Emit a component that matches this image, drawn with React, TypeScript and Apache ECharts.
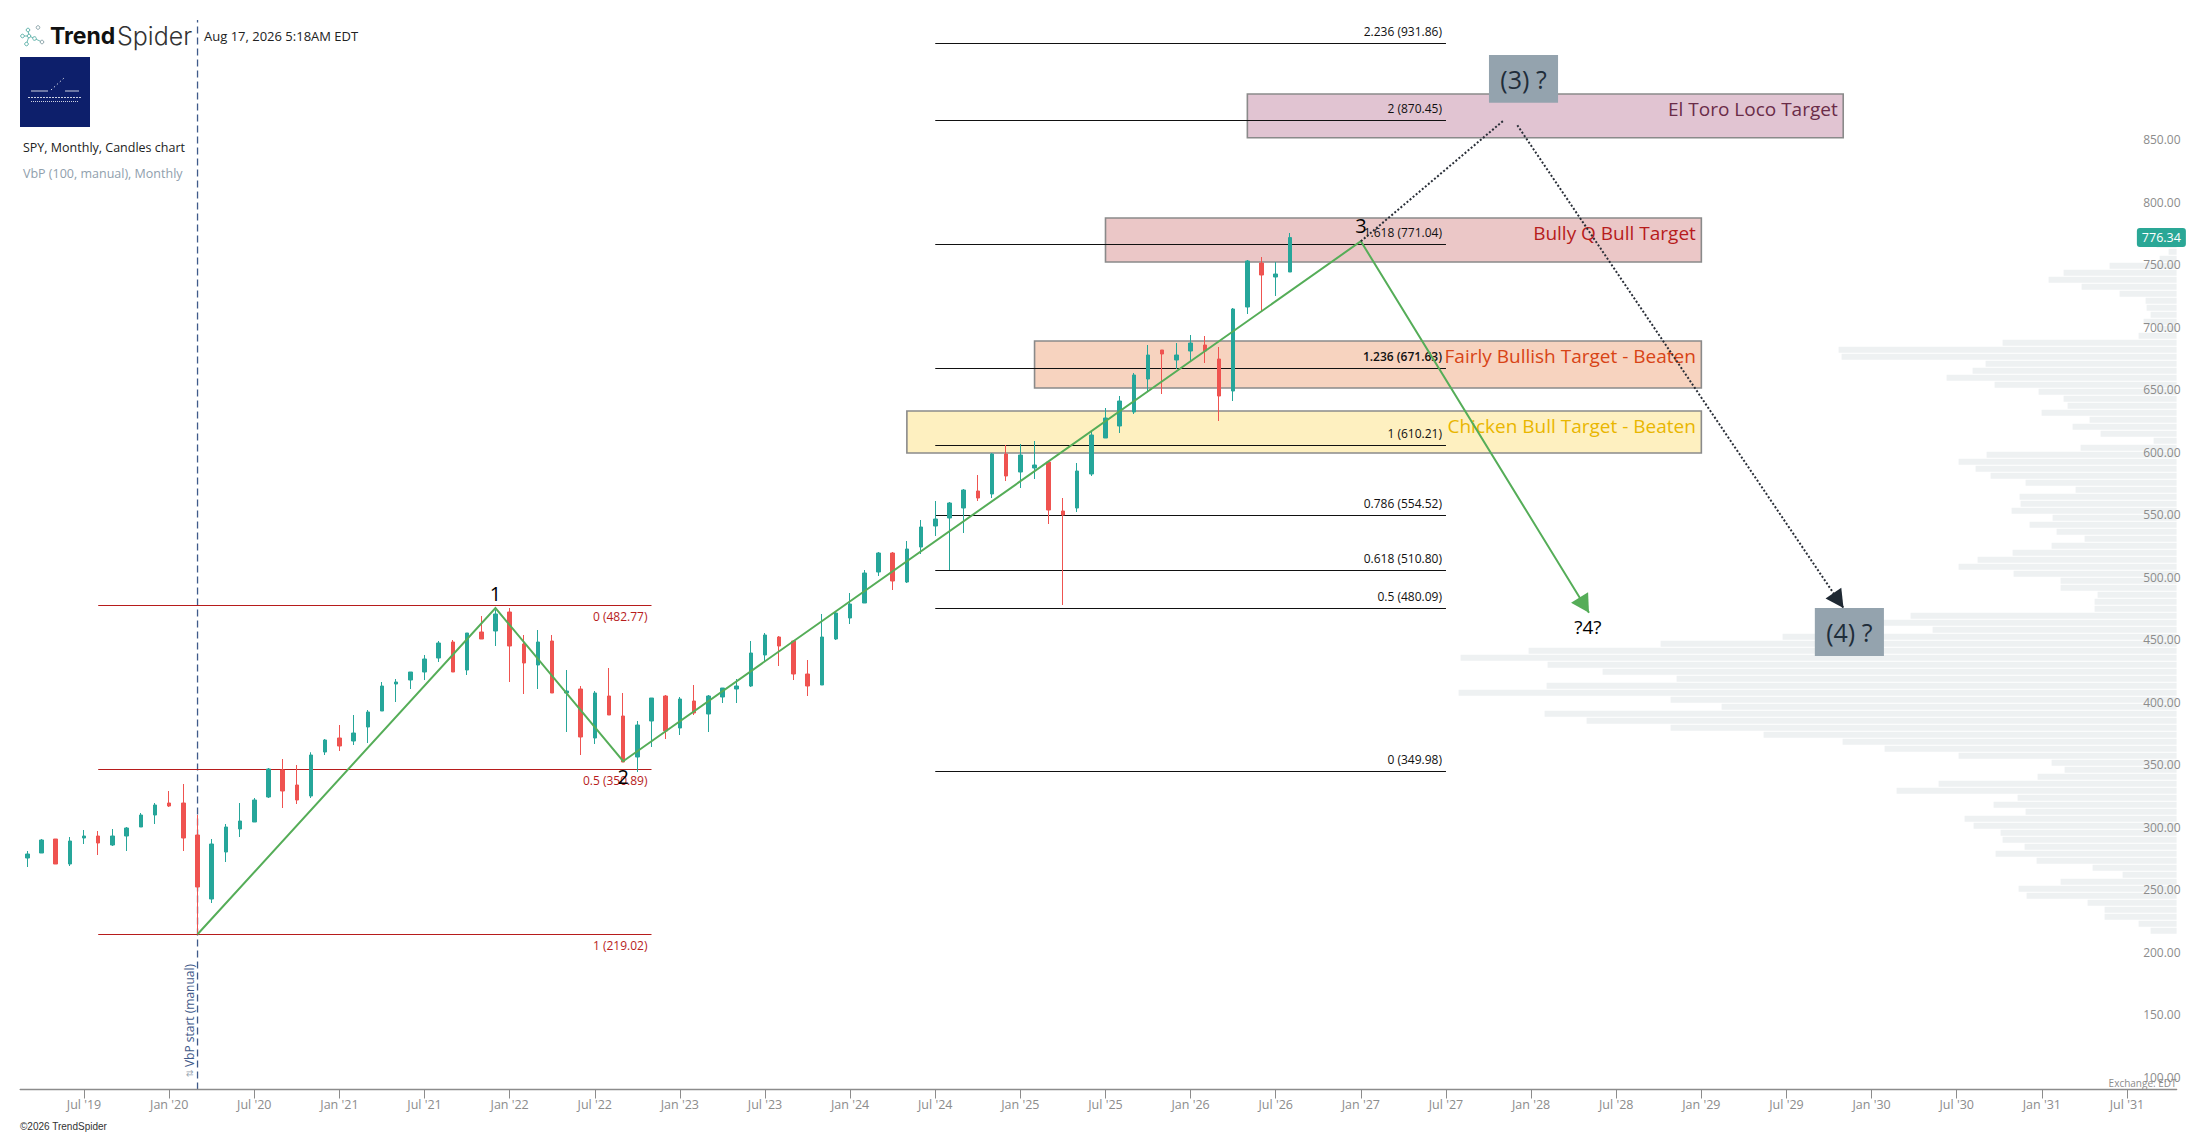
import React, { useEffect, useRef } from "react";
import * as echarts from "echarts";

const FONT = "'Open Sans', sans-serif";
const TEAL = "#26a69a";
const RED = "#ef5350";

const monthNames = ["Jan", "Feb", "Mar", "Apr", "May", "Jun", "Jul", "Aug", "Sep", "Oct", "Nov", "Dec"];
const firstYear = 2019;
const firstMonth = 2;
const monthCount = 152;
const categories: string[] = Array.from({ length: monthCount }, (_, i) => {
  const m = firstMonth + i;
  return `${monthNames[m % 12]} '${String(firstYear + Math.floor(m / 12)).slice(2)}`;
});
const isTickMonth = (i: number) => (firstMonth + i) % 6 === 0;

const yTicks = [100, 150, 200, 250, 300, 350, 400, 450, 500, 550, 600, 650, 700, 750, 800, 850];

const opens = [280,284,295.2,275.2,296,297.6,290.4,297.6,304.8,314.4,324,324,298.4,247.2,284.8,303.2,308.8,328.8,350.4,338.4,329.6,364.8,376,373.6,384.8,397.6,419.2,422.4,428.8,440,452.8,430.4,460.8,461.6,476.8,451.2,434.4,453.6,412,415.2,376,409.6,393.6,360.8,389.6,409.6,384,405.6,395.2,408.8,415.2,417.6,442.4,456.8,453.6,427.2,418.4,455.2,472,484,508.8,524,500.8,528.8,545.6,552,560,573.6,571.2,603.2,588.8,592,596.8,557.6,560,587.2,616,625.6,636.8,663.2,686.4,678.4,685.6,690.4,679.2,653.6,720.8,756,744.8,748.8];
const closes = [283.2,294.4,275.2,293.6,297.6,292,297.6,304,314.4,322.4,321.6,296,256.8,291.2,304.8,309.6,326.4,351.2,333.6,326.4,362.4,374.4,369.6,380,396.8,417.6,420.8,428.8,439.2,452,428.8,460,455.2,475.2,449.6,436,452.8,412,413.6,376.8,412,394.4,356.8,386.4,408,381.6,407.2,396,409.6,416,417.6,444,458.4,449.6,427.2,417.6,456.8,476,483.2,508,524,501.6,527.2,544.8,551.2,564,574.4,568,603.2,585.6,602.4,594.4,558.4,554.4,589.6,618.4,632,645.6,666.4,682.4,683.2,682.4,692,685.6,649.6,719.2,757.6,746.4,747.2,776.34];
const lows = [272.8,284,275.2,273.6,291.2,282.4,289.6,285.6,304.8,307.2,320.8,285.6,219,244,276.8,296.8,308.8,328,320,323.2,328,362.4,365.6,370.4,372,397.6,404.8,415.2,422.4,436.8,428.8,426.4,455.2,449.6,420.8,411.2,415.2,412,380.8,362.4,371.2,394.4,356.8,348.8,368.8,375.2,378.4,394.4,380.8,404,404,416.8,437.6,433.6,422.4,409.6,418.4,454.4,467.2,484,505.6,494.4,500,523.2,537.6,510.4,540,565.6,568,581.6,576,583.2,547.2,482.4,556.8,585.6,616,620,635.2,653.6,651.2,671.2,677.6,676,629.6,645.6,715.2,717.6,729.6,748.8];
const highs = [285.6,295.2,295.2,296.8,302.4,301.6,303.2,304.8,316,324,333.6,339.2,314.4,295.2,307.2,324,328,352,359.2,354.4,364.6,375.2,386.4,394.4,398.4,420.8,423.2,428.8,442.4,453.6,454.4,460,473.6,478.4,480,458.4,462.4,458.4,430.4,417.6,413.6,432,412,389.6,408,410.4,408.8,418.4,410.4,416,423.2,453.6,460,457.6,454.4,438.4,475.2,476.8,492,510.4,524.8,524.8,533.6,550.4,565.6,564.8,575.2,586.4,604,610.4,611.2,613.6,596.8,568,596,620.8,640,649.6,668,690.4,686.4,692,698.4,697.6,688.8,720,758.4,760.8,756.8,780];

// Volume by price, lowest bin first
const vbpLow = 218.6;
const vbpStep = 5.6;
const vbpVolumes = [26,38,72,72,89,150,158,116,54,84,140,181,152,174,176,203,212,151,183,159,280,238,139,112,125,218,292,334,413,506,590,632,455,506,718,630,500,574,629,716,648,516,394,244,302,266,82,82,79,116,116,163,218,199,164,125,92,120,147,124,165,156,157,101,151,186,201,218,190,96,23,76,104,87,135,109,113,138,182,230,204,191,335,338,174,38,20,33,26,30,31,57,95,128,113,67,17,8,20,10];

const redFibLabels = ["0 (482.77)", "0.5 (350.89)", "1 (219.02)"];
const redFibPrices = [482.77, 350.89, 219.02];
const redFibRange = [5, 44];

const blackFibLabels = ["2.236 (931.86)", "2 (870.45)", "1.618 (771.04)", "1.236 (671.63)", "1 (610.21)", "0.786 (554.52)", "0.618 (510.80)", "0.5 (480.09)", "0 (349.98)"];
const blackFibPrices = [931.86, 870.45, 771.04, 671.63, 610.21, 554.52, 510.8, 480.09, 349.98];
const blackFibRange = [64, 100];

const zoneNames = ["El Toro Loco Target", "Bully Q Bull Target", "Fairly Bullish Target - Beaten", "Chicken Bull Target - Beaten"];
const zoneFrom = [86, 76, 71, 62];
const zoneTo = [128, 118, 118, 118];
const zoneTop = [891.2, 792, 693.6, 637.6];
const zoneBottom = [856.2, 756.8, 656, 604];
const zoneFills = ["#e1c4d2", "#ebc7c7", "#f7d3bf", "#fef0c0"];
const zoneTextColors = ["#6a2c48", "#b71c1c", "#d84315", "#e9b600"];

const waveX = [12, 33, 42, 94, 110.08];
const waveY = [219.02, 480, 357.4, 773.4, 476.2];
const dottedUpX = [94, 104.04];
const dottedUpY = [773.4, 869.8];
const dottedDownX = [105.03, 128.02];
const dottedDownY = [866.2, 480];

const waveLabels = ["1", "2", "3", "?4?"];
const waveLabelX = [33, 42, 94, 110];
const waveLabelY = [492, 344.9, 785.8, 464.9];
const waveLabelSize = [20, 20, 20, 19];

const boxLabels = ["(3) ?", "(4) ?"];
const boxFrom = [103.03, 126];
const boxTo = [107.9, 130.87];
const boxTop = [922.4, 480];
const boxBottom = [884.2, 441.6];

const lastPrice = 776.34;
const vbpStartIndex = 12;

const crisp = (v: number) => Math.round(v) + 0.5;

function custom(name: string, xAxisIndex: number, z: number, data: number[][], encode: any, renderItem: any) {
  return { type: "custom", name, xAxisIndex, yAxisIndex: 0, z, data, encode, renderItem, silent: true, clip: false };
}

function arrow(tip: number[], from: number[], len: number, half: number) {
  const dx = tip[0] - from[0];
  const dy = tip[1] - from[1];
  const d = Math.hypot(dx, dy);
  const ux = dx / d;
  const uy = dy / d;
  const bx = tip[0] - ux * len;
  const by = tip[1] - uy * len;
  return [tip, [bx - uy * half, by + ux * half], [bx + uy * half, by - ux * half]];
}

function buildOption(): any {
  const fibSeries = (name: string, labels: string[], prices: number[], range: number[], color: string, above: boolean) =>
    custom(name, 1, 4, prices.map((p) => [range[0], range[1], p]), { x: [0, 1], y: 2 }, (params: any, api: any) => {
      const a = api.coord([api.value(0), api.value(2)]);
      const b = api.coord([api.value(1), api.value(2)]);
      const y = crisp(a[1]);
      const text = labels[params.dataIndex];
      return {
        type: "group",
        children: [
          { type: "line", shape: { x1: a[0], y1: y, x2: b[0], y2: y }, style: { stroke: color, lineWidth: 1 } },
          {
            type: "text",
            style: {
              text,
              x: b[0] - 4,
              y: a[1] + (above ? -11.5 : 11.5),
              fill: color,
              fontSize: 12,
              fontFamily: FONT,
              fontWeight: text.startsWith("1.236") ? 600 : 400,
              align: "right",
              verticalAlign: "middle",
            },
          },
        ],
      };
    });

  const polySeries = (name: string, xs: number[], ys: number[], color: string, width: number, dash: number[] | null, head: number[] | null) =>
    custom(name, 1, 7, xs.map((x, i) => [x, ys[i]]), { x: 0, y: 1 }, (params: any, api: any) => {
      if (params.dataIndex !== 0) return null;
      const pts = xs.map((x, i) => api.coord([x, ys[i]]));
      const children: any[] = [
        {
          type: "polyline",
          shape: { points: pts },
          style: { stroke: color, fill: "none", lineWidth: width, lineDash: dash || undefined, lineJoin: "miter" },
        },
      ];
      if (head) {
        const n = pts.length;
        children.push({
          type: "polygon",
          shape: { points: arrow(pts[n - 1], pts[n - 2], head[0], head[1]) },
          style: { fill: color === "#2a2f38" ? "#1f2933" : color },
        });
      }
      return { type: "group", children };
    });

  const series: any[] = [
    custom("VbP", 2, 1, vbpVolumes.map((v, i) => [v, vbpLow + i * vbpStep, vbpLow + (i + 1) * vbpStep]), { x: 0, y: [1, 2] }, (_: any, api: any) => {
      const a = api.coord([api.value(0), api.value(2)]);
      const b = api.coord([0, api.value(1)]);
      return {
        type: "rect",
        shape: { x: a[0], y: a[1], width: b[0] - a[0], height: b[1] - a[1] - 1 },
        style: { fill: "#eef1f2" },
      };
    }),
    custom("Zones", 1, 2, zoneNames.map((_, i) => [zoneFrom[i], zoneTo[i], zoneTop[i], zoneBottom[i]]), { x: [0, 1], y: [2, 3] }, (params: any, api: any) => {
      const i = params.dataIndex;
      const a = api.coord([api.value(0), api.value(2)]);
      const b = api.coord([api.value(1), api.value(3)]);
      return {
        type: "group",
        children: [
          {
            type: "rect",
            shape: { x: a[0], y: a[1], width: b[0] - a[0], height: b[1] - a[1] },
            style: { fill: zoneFills[i], stroke: "#8a8a8a", lineWidth: 1.6 },
          },
          {
            type: "text",
            style: {
              text: zoneNames[i],
              x: b[0] - 5.5,
              y: a[1] + 15,
              fill: zoneTextColors[i],
              fontSize: 19,
              fontFamily: FONT,
              align: "right",
              verticalAlign: "middle",
            },
          },
        ],
      };
    }),
    fibSeries("Fib red", redFibLabels, redFibPrices, redFibRange, "#b71c1c", false),
    fibSeries("Fib black", blackFibLabels, blackFibPrices, blackFibRange, "#111111", true),
    custom("VbP start", 1, 3, [[vbpStartIndex, 94.8], [vbpStartIndex, 950.4]], { x: 0, y: 1 }, (params: any, api: any) => {
      if (params.dataIndex !== 0) return null;
      const a = api.coord([vbpStartIndex, 94.8]);
      const b = api.coord([vbpStartIndex, 950.4]);
      return {
        type: "group",
        children: [
          { type: "line", shape: { x1: a[0], y1: a[1], x2: b[0], y2: b[1] }, style: { stroke: "#3f5a8a", lineWidth: 1.3, lineDash: [7, 4] } },
          {
            type: "text",
            x: a[0] - 8,
            y: a[1] - 74,
            rotation: Math.PI / 2,
            style: { text: "VbP start (manual)", fill: "#3f5a8a", fontSize: 12, fontFamily: FONT, align: "center", verticalAlign: "middle" },
          },
          {
            type: "text",
            x: a[0] - 8,
            y: a[1] - 16,
            rotation: Math.PI / 2,
            style: { text: "\u21c5", fill: "#9aa7b2", fontSize: 9, fontFamily: "DejaVu Sans", align: "center", verticalAlign: "middle" },
          },
        ],
      };
    }),
    {
      type: "candlestick",
      name: "SPY",
      xAxisIndex: 0,
      yAxisIndex: 0,
      z: 5,
      barWidth: 4,
      silent: true,
      data: opens.map((o, i) => [o, closes[i], lows[i], highs[i]]),
      itemStyle: { color: TEAL, color0: RED, borderColor: TEAL, borderColor0: RED, borderWidth: 1 },
    },
    polySeries("Wave", waveX, waveY, "#55ad58", 2, null, [18, 10]),
    polySeries("Dotted up", dottedUpX, dottedUpY, "#2a2f38", 2, [2, 2], null),
    polySeries("Dotted down", dottedDownX, dottedDownY, "#2a2f38", 2, [2, 2], [18, 9.5]),
    custom("Wave labels", 1, 8, waveLabels.map((_, i) => [waveLabelX[i], waveLabelY[i]]), { x: 0, y: 1 }, (params: any, api: any) => {
      const p = api.coord([api.value(0), api.value(1)]);
      const i = params.dataIndex;
      return {
        type: "text",
        style: { text: waveLabels[i], x: p[0], y: p[1], fill: "#000", fontSize: waveLabelSize[i], fontFamily: FONT, align: "center", verticalAlign: "middle" },
      };
    }),
    custom("Boxes", 1, 9, boxLabels.map((_, i) => [boxFrom[i], boxTo[i], boxTop[i], boxBottom[i]]), { x: [0, 1], y: [2, 3] }, (params: any, api: any) => {
      const a = api.coord([api.value(0), api.value(2)]);
      const b = api.coord([api.value(1), api.value(3)]);
      return {
        type: "group",
        children: [
          { type: "rect", shape: { x: a[0], y: a[1], width: b[0] - a[0], height: b[1] - a[1] }, style: { fill: "#94a3ae" } },
          {
            type: "text",
            style: { text: boxLabels[params.dataIndex], x: (a[0] + b[0]) / 2, y: (a[1] + b[1]) / 2, fill: "#1f2d3a", fontSize: 25, fontFamily: FONT, align: "center", verticalAlign: "middle" },
          },
        ],
      };
    }),
    custom("Last price", 1, 10, [[148.7, lastPrice]], { x: 0, y: 1 }, (_: any, api: any) => {
      const p = api.coord([api.value(0), api.value(1)]);
      return {
        type: "group",
        children: [
          { type: "rect", shape: { x: p[0], y: p[1] - 9.5, width: 49, height: 19, r: 3 }, style: { fill: "#2aa796" } },
          { type: "text", style: { text: lastPrice.toFixed(2), x: p[0] + 24.5, y: p[1], fill: "#fff", fontSize: 12.5, fontFamily: FONT, align: "center", verticalAlign: "middle" } },
        ],
      };
    }),
  ];

  const txt = (text: string, x: number, y: number, fill: string, fontSize: number, font = FONT, extra: any = {}) => ({
    type: "text",
    x,
    y,
    z: 20,
    silent: true,
    style: { text, fill, fontSize, fontFamily: font, align: "left", verticalAlign: "middle", ...extra },
  });

  const node = (cx: number, cy: number, stroke: string) => ({
    type: "circle",
    z: 20,
    silent: true,
    shape: { cx, cy, r: 1.8 },
    style: { fill: "#fff", stroke, lineWidth: 0.9 },
  });
  const link = (x1: number, y1: number, x2: number, y2: number) => ({
    type: "line",
    z: 19,
    silent: true,
    shape: { x1, y1, x2, y2 },
    style: { stroke: "#4ea9a0", lineWidth: 0.8 },
  });
  const whiteLine = (x1: number, y1: number, x2: number, y2: number, dash?: number[]) => ({
    type: "line",
    z: 21,
    silent: true,
    shape: { x1, y1, x2, y2 },
    style: { stroke: "#ffffff", lineWidth: 0.8, lineDash: dash },
  });

  return {
    animation: false,
    backgroundColor: "#ffffff",
    grid: { left: 20.2, top: 0, width: 2156.4, height: 1089.5, containLabel: false },
    xAxis: [
      {
        type: "category",
        data: categories,
        boundaryGap: true,
        z: 10,
        axisLine: { lineStyle: { color: "#8c8c8c", width: 1.4 } },
        axisTick: { show: true, alignWithLabel: true, length: 9, interval: (i: number) => isTickMonth(i), lineStyle: { color: "#8c8c8c" } },
        axisLabel: { interval: (i: number) => isTickMonth(i), margin: 8, color: "#8c8c8c", fontSize: 12.5, fontFamily: FONT },
        splitLine: { show: false },
      },
      { type: "value", show: false, min: -0.5, max: monthCount - 0.5, splitLine: { show: false } },
      { type: "value", show: false, inverse: true, min: 0, max: 2156.4, splitLine: { show: false } },
    ],
    yAxis: [
      {
        type: "value",
        position: "right",
        min: 94.8,
        max: 966.4,
        z: 10,
        axisLine: { show: false },
        axisTick: { show: false },
        splitLine: { show: false },
        axisLabel: {
          customValues: yTicks,
          formatter: (v: number) => v.toFixed(2),
          color: "#8c8c8c",
          fontSize: 12,
          fontFamily: FONT,
          align: "right",
          verticalAlign: "bottom",
          lineHeight: 12,
          margin: 4,
        },
      },
    ],
    series,
    graphic: [
      node(22.5, 36, "#4ea9a0"), node(28, 30, "#4ea9a0"), node(38, 27.5, "#7f9aa0"), node(26.5, 44, "#4ea9a0"),
      node(34.5, 38.5, "#4ea9a0"), node(42, 42, "#7f9aa0"), node(29, 36, "#4ea9a0"),
      link(22.5, 36, 29, 36), link(28, 30, 29, 36), link(29, 36, 26.5, 44), link(29, 36, 34.5, 38.5), link(34.5, 38.5, 42, 42),
      txt("Trend", 50, 35.5, "#111", 23, "Inter", { fontWeight: 700 }),
      txt("Spider", 117, 35.5, "#333", 25, "Inter", { fontWeight: 300 }),
      txt("Aug 17, 2026 5:18AM EDT", 204, 36, "#222", 13),
      { type: "rect", z: 20, silent: true, shape: { x: 20, y: 57, width: 70, height: 70 }, style: { fill: "#0d1f6b" } },
      whiteLine(31, 91, 48, 91), whiteLine(65, 91, 79, 91), whiteLine(51, 90, 64, 78, [1.5, 2.5]),
      whiteLine(28, 97.5, 82, 97.5, [2, 1]), whiteLine(31, 101.5, 78, 101.5, [1, 1]),
      txt("SPY, Monthly, Candles chart", 23, 147.5, "#222", 12.5),
      txt("VbP (100, manual), Monthly", 23, 173.5, "#90a0ad", 12.5),
      txt("Exchange: EDT", 2176.6, 1082.5, "#8c8c8c", 10, FONT, { align: "right" }),
      txt("\u00a92026 TrendSpider", 20, 1126, "#333", 10, "Liberation Sans"),
    ],
  };
}

export default function App() {
  const ref = useRef<HTMLDivElement>(null);
  useEffect(() => {
    document.body.style.margin = "0";
    const chart = echarts.init(ref.current!, undefined, { renderer: "svg", width: 2207, height: 1135 });
    chart.setOption(buildOption());
    return () => chart.dispose();
  }, []);
  return <div ref={ref} style={{ width: 2207, height: 1135, position: "absolute", left: 0, top: 0 }} />;
}
